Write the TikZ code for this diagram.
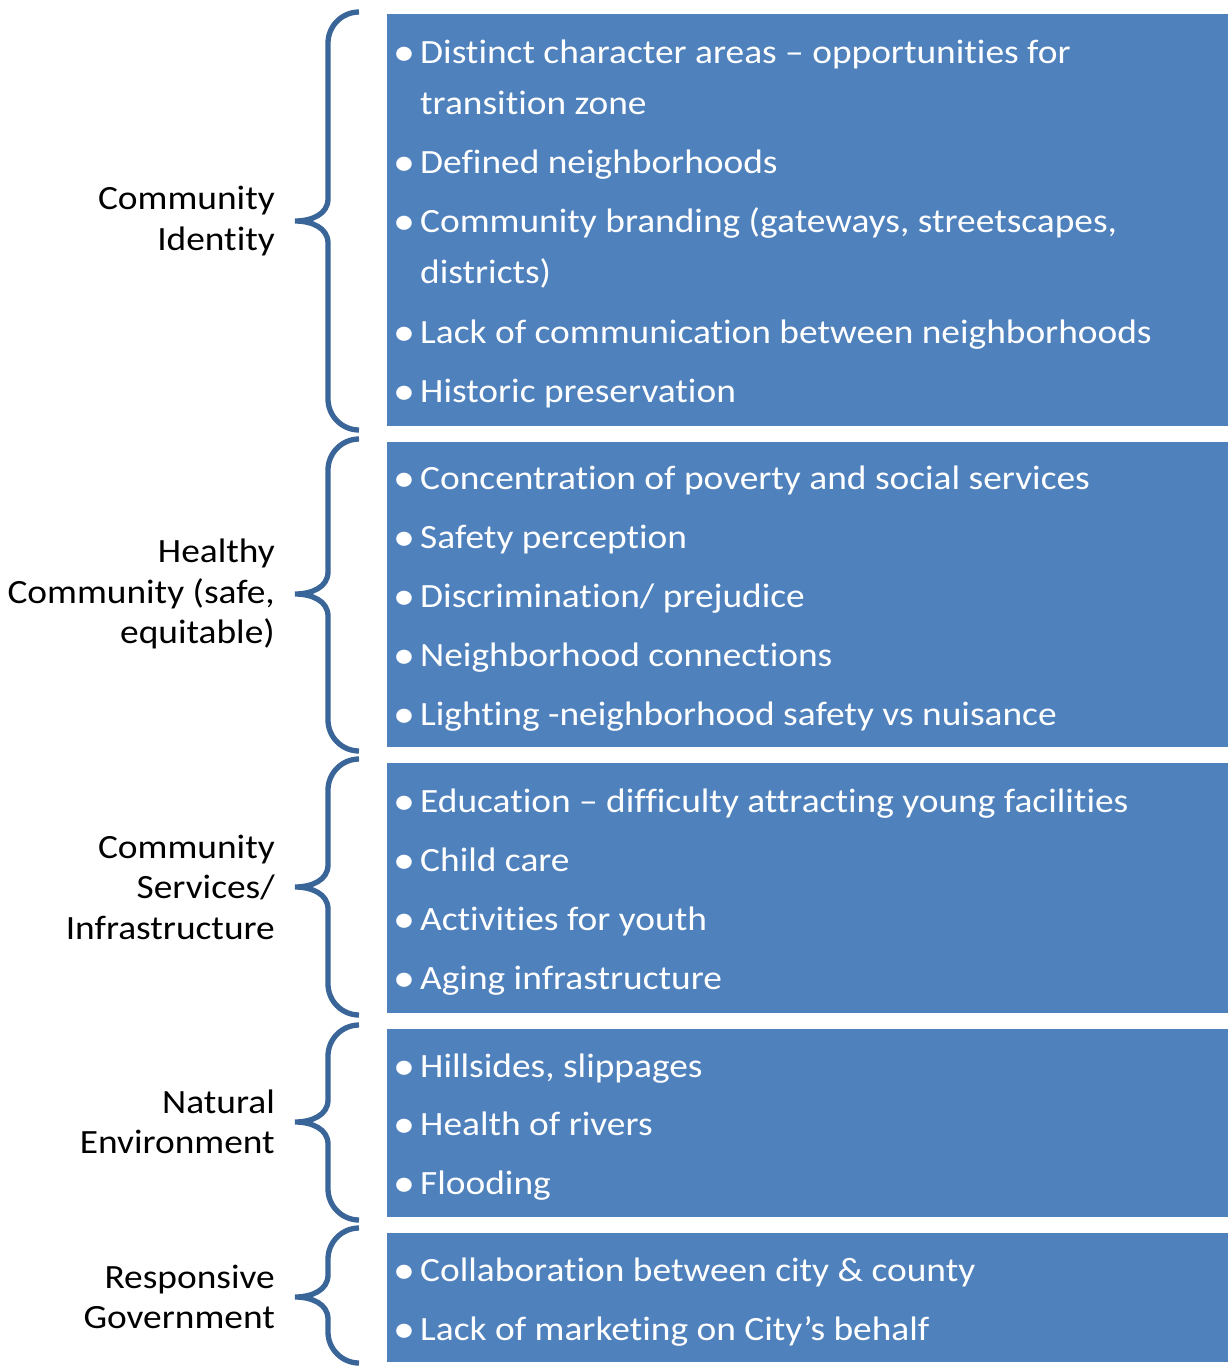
\documentclass[tikz,border=0pt]{standalone}
\usepackage{fontspec}
\setmainfont{Carlito}[Ligatures=NoCommon, FakeStretch=1.1]
\definecolor{boxblue}{RGB}{79,129,189}
\definecolor{braceblue}{RGB}{58,101,152}
\newcommand\bracepath[3]{% top, tip, bottom
  \draw[bracestyle] (359,#1) .. controls (342,#1) and (328,#1+14) .. (328,#1+31)
    -- (328,#2-22) .. controls (328,#2-7) and (312,#2) .. (295,#2)
    .. controls (312,#2) and (328,#2+7) .. (328,#2+22)
    -- (328,#3-31) .. controls (328,#3-14) and (342,#3) .. (359,#3);}
\begin{document}
\begin{tikzpicture}[x=1pt,y=-1pt,
  bluebox/.style={fill=boxblue, draw=none, anchor=north west, inner sep=0, minimum width=841pt},
  bracestyle/.style={draw=braceblue, line width=5.3pt, line cap=butt},
  itemtext/.style={anchor=base west, text=white, font=\fontsize{34}{40}\selectfont, inner sep=0},
  bul/.style={anchor=base west, text=white, font=\fontsize{40}{40}\selectfont, inner sep=0},
  lab/.style={anchor=east, align=right, font=\fontsize{34}{40.5}\selectfont, inner sep=0}]
\useasboundingbox (0,0) rectangle (1228,1366);
% boxes
\node[bluebox, minimum height=412pt] (box1) at (387,14) {};
\node[bluebox, minimum height=305pt] (box2) at (387,442) {};
\node[bluebox, minimum height=250pt] (box3) at (387,763) {};
\node[bluebox, minimum height=188pt] (box4) at (387,1029) {};
\node[bluebox, minimum height=129pt] (box5) at (387,1233) {};
% braces
\bracepath{12}{221}{430}
\bracepath{439}{594}{751}
\bracepath{759}{887}{1015}
\bracepath{1025}{1122}{1220}
\bracepath{1228}{1297}{1363}
% labels
\node[lab] (l1) at (275,221) {Community\\Identity};
\node[lab] (l2) at (275,594) {Healthy\\Community (safe,\\equitable)};
\node[lab] (l3) at (275,887) {Community\\Services/\\Infrastructure};
\node[lab] (l4) at (275,1122) {Natural\\Environment};
\node[lab] (l5) at (275,1297) {Responsive\\Government};
% items
\foreach \y/\t [count=\i] in {
  52/{Distinct character areas – opportunities for},
  162/{Defined neighborhoods},
  221/{Community branding (gateways, streetscapes,},
  332/{Lack of communication between neighborhoods},
  391/{Historic preservation},
  478/{Concentration of poverty and social services},
  537/{Safety perception},
  596/{Discrimination/ prejudice},
  655/{Neighborhood connections},
  714/{Lighting -neighborhood safety vs nuisance},
  801/{Education – difficulty attracting young facilities},
  860/{Child care},
  919/{Activities for youth},
  978/{Aging infrastructure},
  1066/{Hillsides, slippages},
  1124/{Health of rivers},
  1183/{Flooding},
  1270/{Collaboration between city \& county},
  1329/{Lack of marketing on City’s behalf}} {
  \node[bul] (b\i) at (393,\y+13) {•};
  \node[itemtext] (t\i) at (420,\y+11) {\t};
}
\node[itemtext] (c1) at (420,103+11) {transition zone};
\node[itemtext] (c3) at (420,272+11) {districts)};
\end{tikzpicture}
\end{document}
